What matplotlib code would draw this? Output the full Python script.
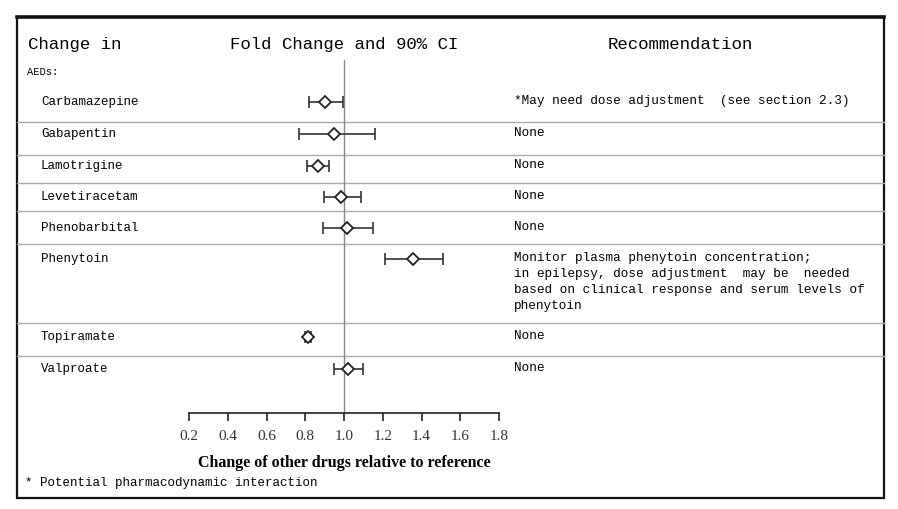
import matplotlib.pyplot as plt
from matplotlib.patches import Rectangle

drugs = ["Carbamazepine", "Gabapentin", "Lamotrigine", "Levetiracetam",
         "Phenobarbital", "Phenytoin", "Topiramate", "Valproate"]
fold = [0.90, 0.95, 0.865, 0.985, 1.015, 1.355, 0.815, 1.02]
ci_low = [0.82, 0.77, 0.81, 0.895, 0.89, 1.21, 0.80, 0.95]
ci_high = [0.995, 1.16, 0.92, 1.09, 1.15, 1.51, 0.83, 1.10]
recs = ["*May need dose adjustment  (see section 2.3)",
        "None", "None", "None", "None",
        "Monitor plasma phenytoin concentration;\n"
        "in epilepsy, dose adjustment  may be  needed\n"
        "based on clinical response and serum levels of\n"
        "phenytoin",
        "None", "None"]
ticks = [0.2, 0.4, 0.6, 0.8, 1.0, 1.2, 1.4, 1.6, 1.8]

# row centres and separators in pixel units (figure is 898x509)
row_y = [102, 134, 166, 197, 228, 259, 337, 369]
sep_y = [122, 155, 183, 211, 244, 323, 356]

W, H = 898, 509
mono = "Liberation Mono"
serif = "Liberation Serif"

fig = plt.figure(figsize=(W / 100, H / 100), dpi=100)

# background axes in pixel coords for the table
bg = fig.add_axes([0, 0, 1, 1])
bg.set_xlim(0, W)
bg.set_ylim(H, 0)
bg.axis("off")

bg.add_patch(Rectangle((17, 17), 867, 481, fill=False, lw=1.6, ec="#111111"))
bg.plot([17, 884], [17, 17], color="#111111", lw=2.6)
for y in sep_y:
    bg.plot([17, 884], [y, y], color="#aaaaaa", lw=1.0)

bg.text(28, 44, "Change in", family=mono, fontsize=12.5, va="center")
bg.text(344, 44, "Fold Change and 90% CI", family=mono, fontsize=12.5,
        va="center", ha="center")
bg.text(680, 44, "Recommendation", family=mono, fontsize=12.5,
        va="center", ha="center")
bg.text(27, 72, "AEDs:", family=mono, fontsize=7.5, va="center")

for name, y, r in zip(drugs, row_y, recs):
    bg.text(41, y, name, family=mono, fontsize=9, va="center")
    bg.text(514, y - 7, r, family=mono, fontsize=9.2, va="top",
            linespacing=1.45)

bg.text(25, 483, "* Potential pharmacodynamic interaction", family=mono,
        fontsize=9, va="center")

# forest plot axes: x from 189 to 499 px, y from 60 to 413 px
x0, x1, y0, y1 = 189, 499, 60, 413
ax = fig.add_axes([x0 / W, 1 - y1 / H, (x1 - x0) / W, (y1 - y0) / H])
ax.patch.set_alpha(0)
ax.set_xlim(0.2, 1.8)
ax.set_ylim(y1, y0)
for s in ["top", "left", "right"]:
    ax.spines[s].set_visible(False)
ax.spines["bottom"].set_linewidth(1.2)
ax.spines["bottom"].set_color("#222222")
ax.set_yticks([])
ax.set_xticks(ticks)
ax.set_xticklabels(["%.1f" % t for t in ticks], family=serif, fontsize=11,
                   color="#333333")
ax.tick_params(axis="x", direction="out", length=6, width=1.2,
               color="#222222", pad=6)
ax.set_xlabel("Change of other drugs relative to reference", family=serif,
              fontsize=11.5, fontweight="bold", labelpad=9)

ax.axvline(1.0, color="#888888", lw=1.0)

for f, lo, hi, y in zip(fold, ci_low, ci_high, row_y):
    ax.errorbar([f], [y], xerr=[[f - lo], [hi - f]], fmt="none",
                ecolor="#333333", elinewidth=1.2, capsize=4, capthick=1.2)
    ax.plot([f], [y], marker="D", ms=6.5, markeredgewidth=1.3, mfc="white",
            mec="#222222", ls="none")

fig.savefig("out.png", dpi=100)
